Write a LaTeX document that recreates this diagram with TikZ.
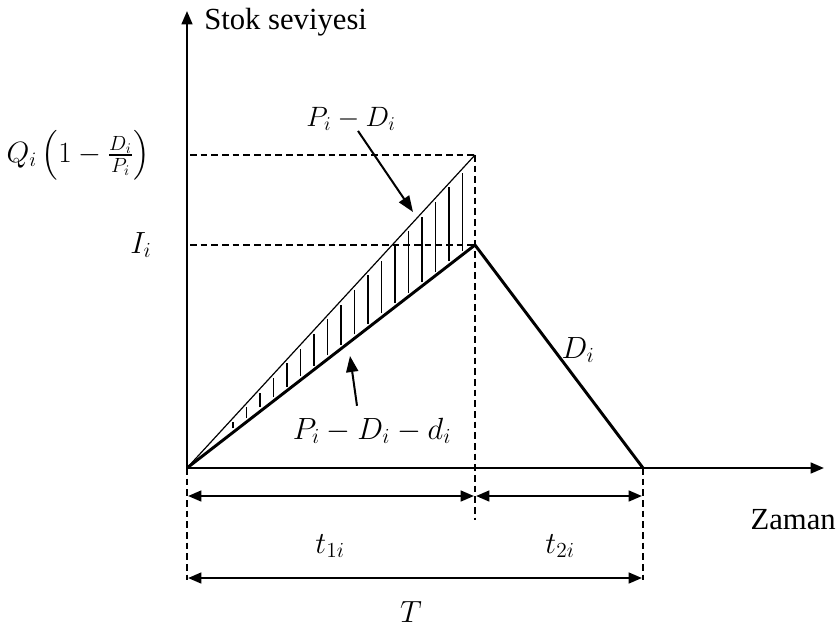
\RequirePackage{fix-cm}
\documentclass[tikz,border=0pt]{standalone}
\usepackage{amsmath}
\usepackage{fontspec}
\setmainfont{Liberation Serif}
\usepackage{tikz}
\usetikzlibrary{arrows.meta,calc}

\tikzset{
  axisline/.style={line width=1.8pt,-{Triangle[length=10pt,width=8pt]}},
  dimline/.style={line width=1.8pt,{Triangle[length=10pt,width=8pt]}-{Triangle[length=10pt,width=8pt]}},
  guide/.style={dashed,line width=1pt,dash pattern=on 5pt off 3pt},
  stockline/.style={line width=2.2pt},
  lbl/.style={font=\fontsize{23}{27}\selectfont,inner sep=0pt},
  mlbl/.style={font=\fontsize{23}{27}\selectfont,inner sep=0pt},
  pointer/.style={line width=1.5pt,-{Triangle[length=12pt,width=9pt]}}
}

\begin{document}
\begin{tikzpicture}[x=0.75pt,y=-0.75pt]
  \useasboundingbox (0,0) rectangle (837,632);
  \coordinate (O) at (187,468);
  \coordinate (ytop) at (187,11);
  \coordinate (xend) at (824,468);
  \coordinate (U) at (475,155);
  \coordinate (L) at (475,245);
  \coordinate (E) at (643,468);
  \coordinate (qlev) at (190,155);
  \coordinate (ilev) at (190,245);
  \coordinate (mid) at (475,520);
  \coordinate (Ob) at (187,580);
  \coordinate (Eb) at (643,580);

  \foreach \hx in {233,246.5,...,464}{
    \draw[line width=1.4pt] (\hx,{468-(\hx-187)/288*223-4}) -- (\hx,{468-(\hx-187)/288*313+4});
  }

  \draw[guide] (qlev) -- (U);
  \draw[guide] (ilev) -- (L);
  \draw[guide] (U) -- (mid);
  \draw[guide] (O) -- (Ob);
  \draw[guide] (E) -- (Eb);

  \draw[line width=0.9pt] (O) -- (U);
  \draw[stockline] (O) -- (L) -- (E);

  \draw[axisline] (O) -- (ytop);
  \draw[axisline] (O) -- (xend);

  \draw[dimline] (188,496) -- (474,496);
  \draw[dimline] (476,496) -- (642,496);
  \draw[dimline] (188,578) -- (642,578);

  \node[lbl,anchor=west] (stok) at (204,22) {Stok seviyesi};
  \node[lbl,anchor=east] (zaman) at (836,520) {Zaman};
  \node[mlbl,font=\fontsize{22}{26}\selectfont,anchor=east] (qlab) at (150,155) {$Q_i\left(1-\frac{D_i}{P_i}\right)$};
  \node[mlbl] (ilab) at (141,245) {$I_i$};
  \node[mlbl,font=\fontsize{21}{25}\selectfont] (pd) at (351,119) {$P_i-D_i$};
  \node[mlbl] (pdd) at (372,431) {$P_i-D_i-d_i$};
  \node[mlbl] (dlab) at (578,350) {$D_i$};
  \node[mlbl] (t1) at (330,546) {$t_{1i}$};
  \node[mlbl] (t2) at (560,546) {$t_{2i}$};
  \node[mlbl] (tt) at (411,612) {$T$};

  \draw[pointer] (pd.south) ++(7,0) coordinate (pds) -- (413,212);
  \draw[pointer] (pdd.north) ++(-15,-12) coordinate (pdn) -- (350,356);
\end{tikzpicture}
\end{document}
